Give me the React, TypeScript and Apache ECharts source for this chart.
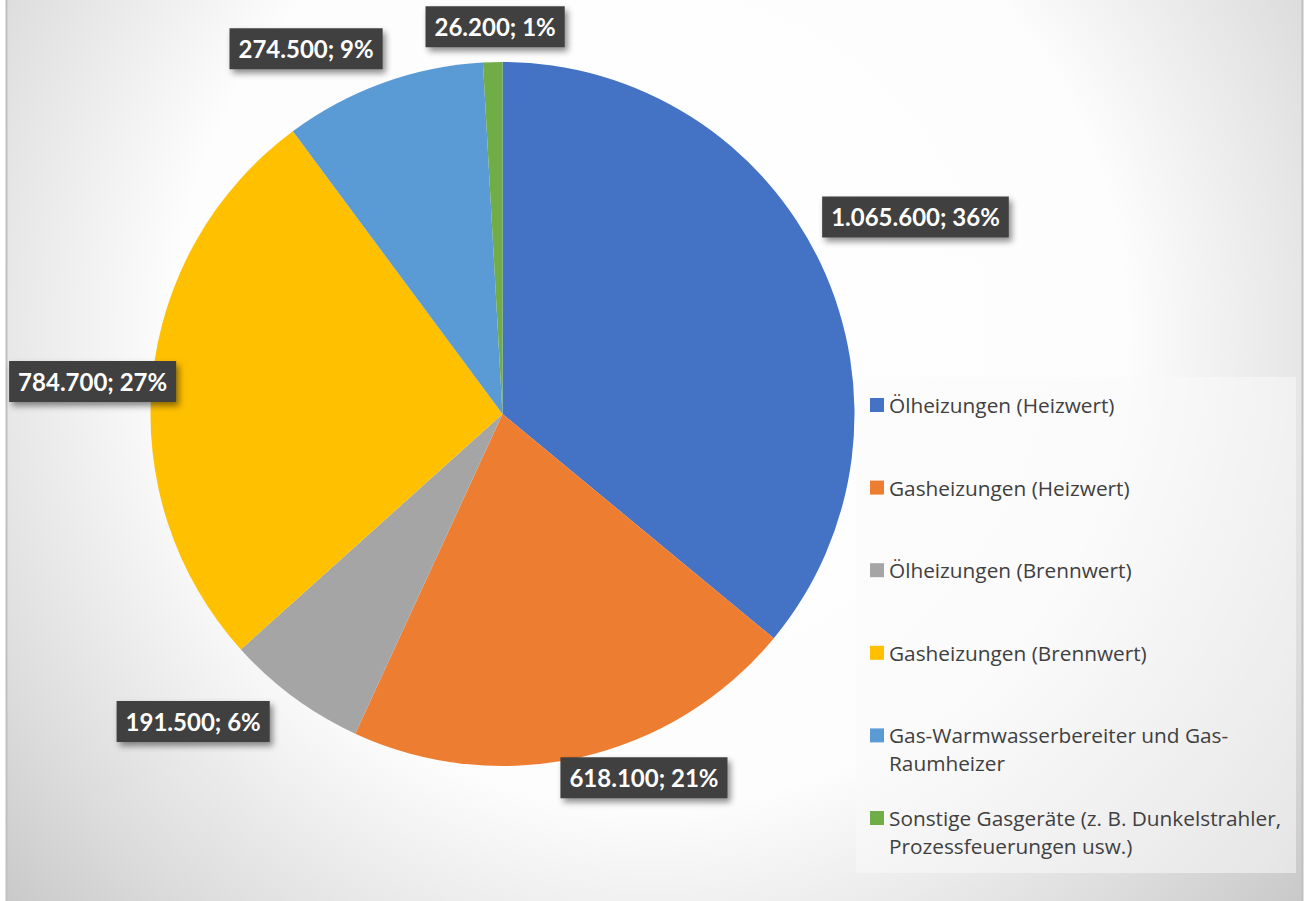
import React, { useEffect, useRef } from "react";
import * as echarts from "echarts";

const categories = [
  "Ölheizungen (Heizwert)",
  "Gasheizungen (Heizwert)",
  "Ölheizungen (Brennwert)",
  "Gasheizungen (Brennwert)",
  "Gas-Warmwasserbereiter und Gas-Raumheizer",
  "Sonstige Gasgeräte (z. B. Dunkelstrahler, Prozessfeuerungen usw.)",
];
const values = [1065600, 618100, 191500, 784700, 274500, 26200];
const legendLines = [
  ["Ölheizungen (Heizwert)"],
  ["Gasheizungen (Heizwert)"],
  ["Ölheizungen (Brennwert)"],
  ["Gasheizungen (Brennwert)"],
  ["Gas-Warmwasserbereiter und Gas-", "Raumheizer"],
  ["Sonstige Gasgeräte (z. B. Dunkelstrahler,", "Prozessfeuerungen usw.)"],
];
const colors = ["#4472C4", "#ED7D31", "#A5A5A5", "#FFC000", "#5B9BD5", "#70AD47"];

// label placement tuning (angle nudge in degrees, distance as multiple of radius)
const labelAngleNudge = [-0.3, -8.4, 8.8, -1.2, -8.4, 0.5];
const labelDistance = [1.3, 1.109, 1.239, 1.168, 1.178, 1.1];

const CX = 502.5;
const CY = 414;
const R = 352;

function fmtNum(v: number): string {
  return String(v).replace(/\B(?=(\d{3})+(?!\d))/g, ".");
}

export default function App() {
  const ref = useRef<HTMLDivElement>(null);
  useEffect(() => {
    if (!ref.current) return;
    const chart = echarts.init(ref.current, undefined, { renderer: "svg" });
    const total = values.reduce((a, b) => a + b, 0);
    const mids: number[] = [];
    let acc = 0;
    values.forEach((v) => {
      mids.push(((acc + v / 2) / total) * 360);
      acc += v;
    });

    const legends = categories.map((name, i) => ({
      data: [name],
      orient: "vertical",
      left: 870,
      top: 405 + i * 82.6 - 42,
      padding: 0,
      itemWidth: 14,
      itemHeight: 14,
      icon: "rect",
      selectedMode: false,
      itemStyle: { borderWidth: 0 },
      formatter: () => {
        const lines = legendLines[i];
        return "\n" + lines.join("\n") + (lines.length === 1 ? "\n" : "");
      },
      textStyle: {
        fontFamily: "Open Sans",
        fontSize: 20.8,
        lineHeight: 28,
        color: "#404040",
      },
    }));

    chart.setOption({
      animation: false,
      graphic: [
        {
          type: "rect",
          z: -10,
          shape: { x: 6, y: 0, width: 1297, height: 901 },
          style: {
            fill: new echarts.graphic.RadialGradient(
              650,
              330,
              950,
              [
                { offset: 0, color: "#ffffff" },
                { offset: 0.5, color: "#fdfdfd" },
                { offset: 0.77, color: "#dcdcdc" },
                { offset: 0.91, color: "#c9c9c9" },
                { offset: 1, color: "#bfbfbf" },
              ],
              true
            ),
          },
        },
        {
          type: "rect",
          z: -5,
          shape: { x: 856, y: 377, width: 440, height: 496 },
          style: { fill: "rgba(250,250,250,0.55)" },
        },
        {
          type: "line",
          z: -4,
          shape: { x1: 6.5, y1: 0, x2: 6.5, y2: 901 },
          style: { stroke: "#c0c0c0", lineWidth: 2 },
        },
        {
          type: "line",
          z: -4,
          shape: { x1: 1302.5, y1: 0, x2: 1302.5, y2: 901 },
          style: { stroke: "#c0c0c0", lineWidth: 2 },
        },
      ],
      legend: legends,
      series: [
        {
          type: "pie",
          center: [CX, CY],
          radius: R,
          startAngle: 90,
          clockwise: true,
          avoidLabelOverlap: false,
          itemStyle: { borderWidth: 0 },
          emphasis: { disabled: true },
          labelLine: { show: false },
          label: {
            show: true,
            position: "outside",
            formatter: (p: any) => `${fmtNum(p.value)}; ${Math.round(p.percent)}%`,
            fontFamily: "Lato",
            fontWeight: "bold",
            fontSize: 24,
            lineHeight: 27,
            color: "#ffffff",
            backgroundColor: "#404040",
            padding: [7, 9],
            shadowColor: "rgba(0,0,0,0.45)",
            shadowBlur: 6,
            shadowOffsetX: 3,
            shadowOffsetY: 4,
          },
          labelLayout: (params: any) => {
            const i = params.dataIndex;
            const a = ((mids[i] + labelAngleNudge[i]) * Math.PI) / 180;
            const d = R * labelDistance[i];
            return {
              x: CX + d * Math.sin(a),
              y: CY - d * Math.cos(a),
              align: "center",
              verticalAlign: "middle",
            };
          },
          data: categories.map((name, i) => ({
            name,
            value: values[i],
            itemStyle: { color: colors[i] },
          })),
        },
      ],
    });
    return () => chart.dispose();
  }, []);
  return (
    <div
      ref={ref}
      style={{ position: "absolute", left: 0, top: 0, width: 1306, height: 901 }}
    />
  );
}
